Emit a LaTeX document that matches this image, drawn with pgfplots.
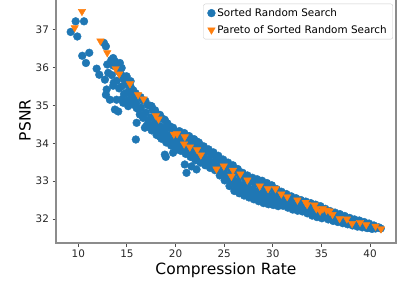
\documentclass[border=0pt]{standalone}
\usepackage{pgfplots}
\pgfplotsset{compat=1.18}
\usepackage{fontspec}
\setmainfont{DejaVu Sans}
\definecolor{mblue}{HTML}{1F77B4}
\definecolor{morange}{HTML}{FF7F0E}
\definecolor{spine}{HTML}{8C8C8C}
\begin{document}
\begin{tikzpicture}
\begin{axis}[
  scale only axis,
  width=340bp, height=245.3bp,
  xmin=7.71, xmax=42.67,
  ymin=31.367, ymax=37.844,
  xtick={10,15,20,25,30,35,40},
  ytick={32,33,34,35,36,37},
  /pgf/number format/assume math mode=true,
  tick label style={font=\fontsize{10.4bp}{12bp}\selectfont, color=black!85},
  label style={font=\fontsize{15.5bp}{18bp}\selectfont},
  xlabel={Compression Rate},
  ylabel={PSNR},
  xlabel style={yshift=2bp},
  ylabel style={yshift=-2bp},
  axis line style={spine, line width=1.2bp},
  tick style={color=black!70, line width=0.8bp},
  tick align=outside,
  major tick length=3.5bp,
  xtick pos=bottom, ytick pos=left,
  clip=false,
  legend cell align=left,
  legend style={at={(0.991,0.9755)}, anchor=north east,
    draw=black!20, rounded corners=2bp, fill=white,
    font=\fontsize{10.4bp}{12bp}\selectfont,
    inner xsep=4bp, inner ysep=2.5bp, row sep=3.5bp},
]
\coordinate (sw) at (rel axis cs:0,0);
\addplot[only marks, mark=*, mark size=3.9bp, color=mblue, mark options={fill=mblue, draw=mblue}] coordinates {
(9.22,36.94)(9.73,37.22)(9.90,36.82)(10.59,37.22)(10.41,36.31)(11.13,36.39)(10.79,36.12)(11.89,35.97)(12.16,35.81)(12.64,36.65)(12.84,36.56)(12.98,36.08)(13.59,36.25)(13.77,36.16)(14.28,36.12)(14.46,35.99)(12.74,35.68)(13.08,35.86)(12.92,35.42)(12.84,35.28)(13.59,35.52)(13.25,35.15)(13.94,35.15)(13.77,34.89)(14.11,34.84)(14.62,35.07)(14.97,35.77)(15.38,35.64)(15.48,35.37)(15.65,35.15)(15.13,34.98)(16.0,34.93)(16.33,34.76)(16.67,34.67)(16.0,34.54)(17.02,34.45)(17.54,34.98)(18.05,34.45)(18.56,34.41)(15.92,34.10)(18.9,34.18)(18.39,34.18)(19.08,34.45)(19.75,34.41)(19.41,34.01)(20.44,34.10)(22.16,34.05)(19.0,33.64)(18.9,33.70)(19.75,33.75)(21.13,33.22)(20.95,33.44)(21.64,33.39)(22.16,33.31)(20.1,33.83)
(14.8,35.11)(16.85,34.41)(17.87,34.41)
(13.4,36.2)(13.6,36.05)(13.45,35.8)(13.65,35.6)
(13.9,36.02)(14.15,35.9)(13.95,35.65)(14.2,35.45)
(14.4,35.82)(14.65,35.7)(14.45,35.5)(14.7,35.3)(14.55,35.17)
(14.9,35.62)(15.15,35.52)(14.95,35.33)(15.2,35.15)
(15.4,35.48)(15.65,35.4)(15.45,35.2)(15.7,35.02)
(15.9,35.32)(16.15,35.25)(15.95,35.06)(16.2,34.9)
(16.4,35.22)(16.65,35.13)(16.45,34.94)(16.7,34.75)
(16.9,35.12)(17.15,35.01)(16.95,34.81)(17.2,34.61)(17.05,34.47)
(17.4,34.99)(17.65,34.88)(17.45,34.68)(17.7,34.48)(17.55,34.34)
(17.9,34.87)(18.15,34.76)(17.95,34.56)(18.2,34.36)(18.05,34.22)
(18.4,34.75)(18.65,34.65)(18.45,34.45)(18.7,34.26)(18.55,34.12)
(18.9,34.62)(19.15,34.53)(18.95,34.34)(19.2,34.15)(19.05,34.02)
(19.4,34.45)(19.65,34.38)(19.45,34.22)(19.7,34.05)(19.55,33.94)
(19.9,34.30)(20.15,34.24)(19.95,34.10)(20.2,33.96)(20.05,33.87)
(20.4,34.32)(20.65,34.18)(20.45,34.04)(20.7,33.89)(20.55,33.80)
(20.9,34.27)(21.15,34.12)(20.95,33.97)(21.2,33.82)(21.05,33.72)
(21.4,34.19)(21.65,34.04)(21.45,33.89)(21.7,33.74)(21.55,33.64)
(21.9,34.11)(22.15,33.96)(21.95,33.80)(22.2,33.65)(22.05,33.55)
(22.4,34.02)(22.65,33.88)(22.45,33.73)(22.7,33.59)(22.55,33.49)
(22.9,33.92)(23.15,33.79)(22.95,33.65)(23.2,33.51)(23.05,33.42)
(23.4,33.84)(23.65,33.71)(23.45,33.57)(23.7,33.44)(23.55,33.35)
(23.9,33.76)(24.15,33.63)(23.95,33.50)(24.2,33.37)(24.05,33.29)
(24.4,33.67)(24.65,33.53)(24.45,33.39)(24.7,33.24)(24.55,33.15)
(24.9,33.57)(25.15,33.42)(24.95,33.27)(25.2,33.12)(25.05,33.02)
(25.4,33.49)(25.65,33.32)(25.45,33.15)(25.7,32.98)(25.55,32.87)
(25.9,33.42)(26.15,33.23)(25.95,33.05)(26.2,32.87)(26.05,32.74)
(26.4,33.32)(26.65,33.14)(26.45,32.97)(26.7,32.80)(26.55,32.68)
(26.9,33.22)(27.15,33.06)(26.95,32.89)(27.2,32.73)(27.05,32.62)
(27.4,33.15)(27.65,32.99)(27.45,32.83)(27.7,32.68)(27.55,32.57)
(27.9,33.09)(28.15,32.93)(27.95,32.78)(28.2,32.62)(28.05,32.52)
(28.4,33.05)(28.65,32.89)(28.45,32.73)(28.7,32.58)(28.55,32.47)
(28.9,33.01)(29.15,32.85)(28.95,32.69)(29.2,32.53)(29.05,32.42)
(29.4,32.95)(29.65,32.80)(29.45,32.64)(29.7,32.49)(29.55,32.39)
(29.9,32.89)(30.15,32.75)(29.95,32.61)(30.2,32.46)(30.05,32.37)
(30.4,32.79)(30.65,32.67)(30.45,32.55)(30.7,32.42)(30.55,32.34)
(30.9,32.72)(31.15,32.60)(30.95,32.49)(31.2,32.38)(31.05,32.35)
(31.4,32.66)(31.65,32.55)(31.45,32.44)(31.7,32.33)(31.55,32.30)
(31.9,32.60)(32.15,32.49)(31.95,32.39)(32.2,32.28)(32.05,32.25)
(32.4,32.55)(32.65,32.45)(32.45,32.36)(32.7,32.25)(32.55,32.22)
(32.9,32.50)(33.15,32.41)(32.95,32.32)(33.2,32.22)(33.05,32.20)
(33.4,32.46)(33.65,32.37)(33.45,32.27)(33.7,32.18)(33.55,32.15)
(33.9,32.42)(34.15,32.33)(33.95,32.24)(34.2,32.14)(34.05,32.09)
(34.4,32.38)(34.65,32.29)(34.45,32.20)(34.7,32.10)(34.55,32.05)
(34.9,32.34)(35.15,32.25)(34.95,32.16)(35.2,32.07)(35.05,32.02)
(35.4,32.27)(35.65,32.17)(35.45,32.09)(35.7,31.99)
(35.9,32.21)(36.15,32.12)(35.95,32.03)(36.2,31.95)
(36.4,32.17)(36.65,32.08)(36.45,32.00)(36.7,31.92)
(36.9,32.13)(37.15,32.05)(36.95,31.97)(37.2,31.89)
(37.4,32.08)(37.65,32.00)(37.45,31.93)(37.7,31.86)
(37.9,32.03)(38.15,31.96)(37.95,31.90)(38.2,31.83)
(38.4,31.99)(38.65,31.92)(38.45,31.86)(38.7,31.80)
(38.9,31.96)(39.15,31.89)(38.95,31.83)(39.2,31.78)
(39.4,31.92)(39.65,31.86)(39.45,31.80)(39.7,31.76)
(39.9,31.88)(40.15,31.82)(39.95,31.77)(40.2,31.74)
(40.4,31.83)(40.65,31.78)(40.55,31.75)
(40.9,31.78)(41.1,31.75)
};
\addlegendentry{Sorted Random Search}
\addplot[only marks, mark=triangle*, mark size=4.3bp, color=morange, mark options={rotate=180, fill=morange, draw=morange}] coordinates {
(9.63,37.05)(10.38,37.48)(12.28,36.70)(12.98,36.39)(13.84,35.97)(14.21,35.83)(15.31,35.57)(16.15,35.28)(16.71,35.17)(17.98,34.73)(18.25,34.64)(19.83,34.24)(20.16,34.25)(20.95,34.17)(20.88,33.98)(21.47,33.90)(22.22,33.83)(22.60,33.69)(24.21,33.32)(24.96,33.40)(25.91,33.29)(25.75,33.13)(26.67,33.19)(27.39,33.03)(28.66,32.87)(29.51,32.80)(30.28,32.80)(30.88,32.66)(31.48,32.59)(32.53,32.50)(33.38,32.44)(33.53,32.38)(34.30,32.37)(34.48,32.27)(34.87,32.21)(35.15,32.27)(35.53,32.23)(35.84,32.21)(36.14,32.12)(36.87,32.01)(37.62,32.00)(38.15,31.88)(38.97,31.91)(39.61,31.85)(40.56,31.81)(41.13,31.74)
};
\addlegendentry{Pareto of Sorted Random Search}
\end{axis}
\pgfresetboundingbox
\path (sw) ++(-56bp,-44bp) rectangle ++(404bp,287bp);
\end{tikzpicture}
\end{document}
